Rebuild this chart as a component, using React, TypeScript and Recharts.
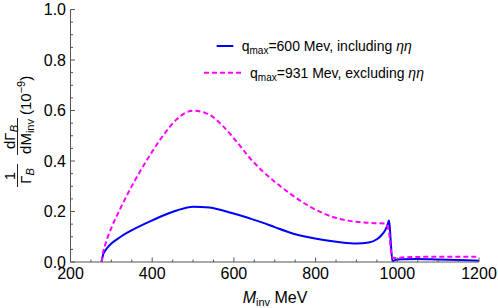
import React from 'react';
import { LineChart, Line, XAxis, YAxis, Legend } from 'recharts';

// invariant mass grid (MeV) and the two distributions, in units of 1e-9
const M_INV = [276, 280, 285, 290, 300, 320, 340, 360, 380, 400, 430, 460, 500, 540, 575, 610, 640, 670, 700, 740, 780, 820, 860, 900, 930, 950, 960, 970, 975, 980, 984, 988, 995, 1010, 1050, 1100, 1150, 1200];
const INCL_ETAETA = [0, 0.03, 0.045, 0.056, 0.073, 0.097, 0.117, 0.134, 0.15, 0.165, 0.186, 0.204, 0.219, 0.216, 0.203, 0.187, 0.172, 0.156, 0.138, 0.115, 0.099, 0.087, 0.078, 0.073, 0.077, 0.09, 0.104, 0.125, 0.142, 0.164, 0.08, 0.003, 0.008, 0.011, 0.012, 0.01, 0.008, 0.005];
const EXCL_ETAETA = [0, 0.04, 0.068, 0.093, 0.135, 0.205, 0.27, 0.33, 0.385, 0.437, 0.508, 0.565, 0.599, 0.583, 0.535, 0.47, 0.41, 0.36, 0.318, 0.268, 0.225, 0.192, 0.17, 0.159, 0.155, 0.153, 0.153, 0.152, 0.145, 0.115, 0.05, 0.018, 0.016, 0.018, 0.02, 0.021, 0.021, 0.021];

const X_TICKS = [200, 250, 300, 350, 400, 450, 500, 550, 600, 650, 700, 750, 800, 850, 900, 950, 1000, 1050, 1100, 1150, 1200];
const Y_TICKS = [0, 0.05, 0.1, 0.15, 0.2, 0.25, 0.3, 0.35, 0.4, 0.45, 0.5, 0.55, 0.6, 0.65, 0.7, 0.75, 0.8, 0.85, 0.9, 0.95, 1];

const FONT = '"Liberation Sans", Arial, sans-serif';
const FRAME = '#555';
const BLUE = '#0000ff';
const MAGENTA = '#ff00ff';

const data = M_INV.map((m, i) => ({ m, incl: INCL_ETAETA[i], excl: EXCL_ETAETA[i] }));

const isMajorX = (v: number) => v % 200 === 0;
const isMajorY = (v: number) => Math.abs(v * 5 - Math.round(v * 5)) < 1e-6;

const makeTick = (side: 'bottom' | 'left' | 'top' | 'right') => (props: any) => {
  const { x, y, payload } = props;
  const v = payload.value;
  const major = side === 'bottom' || side === 'top' ? isMajorX(v) : isMajorY(v);
  const len = major ? 4.5 : 2.5;
  if (side === 'bottom') {
    return (
      <g>
        <line x1={x} x2={x} y1={y} y2={y - len} stroke={FRAME} />
        {major && (
          <text x={x} y={y + 17} textAnchor="middle" fontFamily={FONT} fontSize={16} fill="#000">{v}</text>
        )}
      </g>
    );
  }
  if (side === 'left') {
    return (
      <g>
        <line x1={x} x2={x + len} y1={y} y2={y} stroke={FRAME} />
        {major && (
          <text x={x - 4.5} y={y + 5.5} textAnchor="end" fontFamily={FONT} fontSize={16} fill="#000">{v.toFixed(1)}</text>
        )}
      </g>
    );
  }
  if (side === 'top') return <line x1={x} x2={x} y1={y} y2={y + len} stroke={FRAME} />;
  return <line x1={x} x2={x - len} y1={y} y2={y} stroke={FRAME} />;
};

const XTitle = () => (
  <text x={275} y={303} textAnchor="middle" fontFamily={FONT} fontSize={16} fill="#000">
    <tspan fontStyle="italic">M</tspan>
    <tspan fontSize={11} dy={3}>inv</tspan>
    <tspan dy={-3}> MeV</tspan>
  </text>
);

// rotated: local x = -screen y, local y = screen x
const YTitle = () => (
  <g transform="rotate(-90)" fontFamily={FONT} fontSize={15} fill="#000">
    <text x={-176} y={14.5} textAnchor="middle">1</text>
    <line x1={-187} x2={-164} y1={17.5} y2={17.5} stroke="#222" />
    <text x={-176} y={31} textAnchor="middle">Γ<tspan fontSize={11} fontStyle="italic" dy={3}>B</tspan></text>
    <text x={-137} y={14.5} textAnchor="middle">dΓ<tspan fontSize={11} fontStyle="italic" dy={3}>B</tspan></text>
    <line x1={-155} x2={-118} y1={17.5} y2={17.5} stroke="#222" />
    <text x={-136.5} y={31} textAnchor="middle">dM<tspan fontSize={11} dy={3}>inv</tspan></text>
    <text x={-115} y={31}>(10<tspan fontSize={11} dy={-6}>−9</tspan><tspan dy={6}>)</tspan></text>
  </g>
);

const LegendBox = () => (
  <svg width={498} height={90} style={{ display: 'block' }} fontFamily={FONT} fontSize={14}>
    <line x1={216.7} x2={233.3} y1={46} y2={46} stroke={BLUE} strokeWidth={2} />
    <text x={241.7} y={51} fill="#000">
      q<tspan fontSize={10} dy={3}>max</tspan>
      <tspan dy={-3}>=600 Mev, including </tspan>
      <tspan fontStyle="italic">ηη</tspan>
    </text>
    <line x1={204} x2={241.7} y1={72.7} y2={72.7} stroke={MAGENTA} strokeWidth={2} strokeDasharray="5 3" />
    <text x={250} y={77.5} fill="#000">
      q<tspan fontSize={10} dy={3}>max</tspan>
      <tspan dy={-3}>=931 Mev, excluding </tspan>
      <tspan fontStyle="italic">ηη</tspan>
    </text>
  </svg>
);

export default function App() {
  return (
    <div style={{ width: 498, height: 308, background: '#fff' }}>
      <style>{'body{margin:0}'}</style>
      <LineChart width={498} height={308} data={data} margin={{ top: 9.5, right: 19, bottom: 0, left: 0 }}>
        <XAxis
          dataKey="m" type="number" domain={[200, 1200]} ticks={X_TICKS} interval={0}
          allowDataOverflow height={46} tickSize={0} tickMargin={0} tickLine={false}
          axisLine={{ stroke: FRAME }} tick={makeTick('bottom')} label={<XTitle />}
        />
        <XAxis
          xAxisId="top" orientation="top" dataKey="m" type="number" domain={[200, 1200]} ticks={X_TICKS}
          interval={0} allowDataOverflow height={0} tickSize={0} tickMargin={0} tickLine={false}
          axisLine={{ stroke: FRAME }} tick={makeTick('top')}
        />
        <YAxis
          type="number" domain={[0, 1]} ticks={Y_TICKS} interval={0} allowDataOverflow width={70.5}
          tickSize={0} tickMargin={0} tickLine={false} axisLine={{ stroke: FRAME }}
          tick={makeTick('left')} label={<YTitle />}
        />
        <YAxis
          yAxisId="right" orientation="right" type="number" domain={[0, 1]} ticks={Y_TICKS} interval={0}
          allowDataOverflow width={0} tickSize={0} tickMargin={0} tickLine={false}
          axisLine={{ stroke: FRAME }} tick={makeTick('right')}
        />
        <Line type="monotone" dataKey="incl" stroke={BLUE} strokeWidth={2} dot={false} isAnimationActive={false} />
        <Line type="monotone" dataKey="excl" stroke={MAGENTA} strokeWidth={2} strokeDasharray="5 3" dot={false} isAnimationActive={false} />
        <Legend
          layout="horizontal" verticalAlign="middle" align="center" content={<LegendBox />}
          wrapperStyle={{ position: 'absolute', left: 0, top: 0, width: 498, height: 90, pointerEvents: 'none' }}
        />
      </LineChart>
    </div>
  );
}
